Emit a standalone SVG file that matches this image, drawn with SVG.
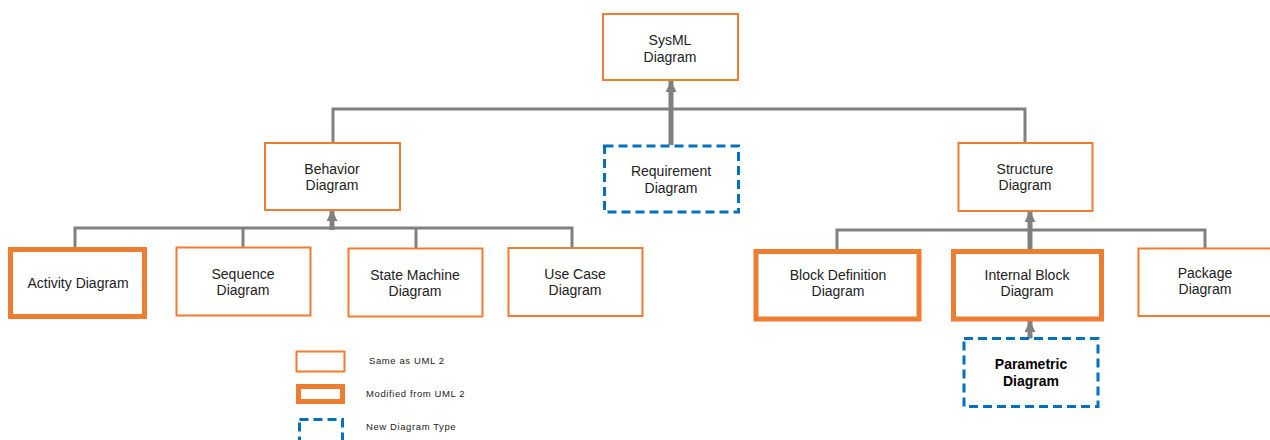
<svg xmlns="http://www.w3.org/2000/svg" width="1270" height="440" viewBox="0 0 1270 440">
<defs>
<style>
.n{fill:#fff;stroke:#ED7D31;stroke-width:2}
.m{fill:#fff;stroke:#ED7D31;stroke-width:5}
.d{fill:#fff;stroke:#0070C0;stroke-width:3;stroke-dasharray:9 5}
.t{font-family:"Liberation Sans",Arial,sans-serif;font-size:14px;fill:#222;text-anchor:middle}
.b{font-weight:bold;fill:#000}
.l{font-family:"Liberation Sans",Arial,sans-serif;font-size:9.5px;fill:#222;letter-spacing:0.6px}
.c{fill:none;stroke:#808080;stroke-width:3}
.k{fill:none;stroke:#808080;stroke-width:5}
</style>
<marker id="ah" viewBox="0 0 10 10" refX="10" refY="5" markerWidth="2.2" markerHeight="2.2" orient="auto" markerUnits="strokeWidth">
<path d="M0,0 L10,5 L0,10 z" fill="#808080"/>
</marker>
</defs>
<g id="connectors">
<polyline class="c" points="333,143 333,109 1025,109 1025,143"/>
<line class="k" x1="671" y1="145" x2="671" y2="81" marker-end="url(#ah)"/>
<polyline class="c" points="75,248 75,228 572,228 572,248"/>
<line class="c" x1="243" y1="228" x2="243" y2="247"/>
<line class="c" x1="416" y1="228" x2="416" y2="248"/>
<line class="k" x1="332" y1="230" x2="332" y2="210" marker-end="url(#ah)"/>
<polyline class="c" points="837,249 837,230 1205,230 1205,248"/>
<line class="k" x1="1030" y1="249" x2="1030" y2="211" marker-end="url(#ah)"/>
<line class="k" x1="1030" y1="341" x2="1030" y2="321" marker-end="url(#ah)"/>
</g>
<g id="sysml"><rect class="n" x="603" y="14" width="135" height="66"/><text class="t" x="670" y="45">SysML</text><text class="t" x="670" y="62">Diagram</text></g>
<g id="requirement"><rect class="d" x="604.5" y="146" width="134" height="66"/><text class="t" x="671" y="176">Requirement</text><text class="t" x="671" y="193">Diagram</text></g>
<g id="behavior"><rect class="n" x="265" y="143" width="135" height="67"/><text class="t" x="332" y="174">Behavior</text><text class="t" x="332" y="190">Diagram</text></g>
<g id="structure"><rect class="n" x="958.5" y="143" width="134" height="68"/><text class="t" x="1025" y="174">Structure</text><text class="t" x="1025" y="190">Diagram</text></g>
<g id="activity"><rect class="m" x="10.5" y="249.5" width="134" height="67"/><text class="t" x="78" y="288">Activity Diagram</text></g>
<g id="sequence"><rect class="n" x="176.5" y="247.5" width="134" height="68"/><text class="t" x="243" y="279">Sequence</text><text class="t" x="243" y="295">Diagram</text></g>
<g id="statemachine"><rect class="n" x="348.5" y="248.5" width="134" height="68"/><text class="t" x="415" y="280">State Machine</text><text class="t" x="415" y="296">Diagram</text></g>
<g id="usecase"><rect class="n" x="508.5" y="248" width="134" height="68"/><text class="t" x="575" y="279">Use Case</text><text class="t" x="575" y="295">Diagram</text></g>
<g id="blockdefinition"><rect class="m" x="756" y="251.5" width="163" height="67.5"/><text class="t" x="838" y="280">Block Definition</text><text class="t" x="838" y="296">Diagram</text></g>
<g id="internalblock"><rect class="m" x="953.5" y="251.5" width="148" height="67.5"/><text class="t" x="1027" y="280">Internal Block</text><text class="t" x="1027" y="296">Diagram</text></g>
<g id="package"><rect class="n" x="1138.5" y="248.5" width="133" height="67.5"/><text class="t" x="1205" y="278">Package</text><text class="t" x="1205" y="294">Diagram</text></g>
<g id="parametric"><rect class="d" x="964" y="338.5" width="134" height="68"/><text class="t b" x="1031" y="369">Parametric</text><text class="t b" x="1031" y="386">Diagram</text></g>
<g id="legend">
<rect class="n" x="296.5" y="351.5" width="48" height="20"/>
<text class="l" x="369" y="364">Same as UML 2</text>
<rect class="m" x="298.5" y="386.5" width="44" height="15"/>
<text class="l" x="366" y="397">Modified from UML 2</text>
<rect class="d" x="299.5" y="419.5" width="43" height="26"/>
<text class="l" x="366" y="430">New Diagram Type</text>
</g>
</svg>
